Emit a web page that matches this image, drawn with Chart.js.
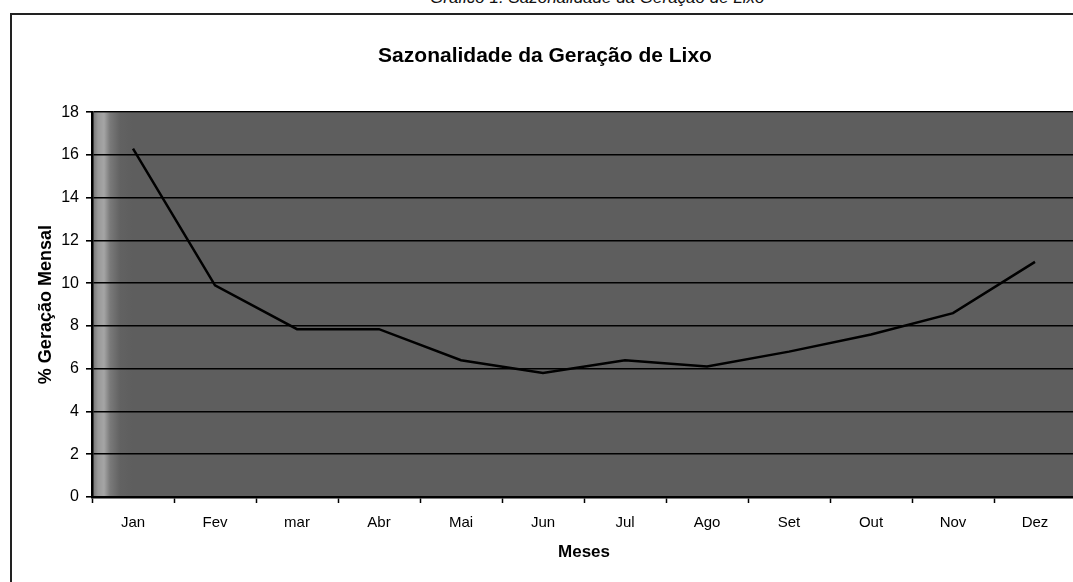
<!DOCTYPE html>
<html>
<head>
<meta charset="utf-8">
<script src="https://cdn.jsdelivr.net/npm/chart.js@4"></script>
<style>
  html, body { margin: 0; padding: 0; background: #fff; overflow: hidden; width: 1073px; height: 582px; }
  #frame { position: absolute; left: 10px; top: 13px; width: 1100px; height: 600px;
           border-top: 2px solid #222; border-left: 2px solid #222; }
  #header { position: absolute; left: 430px; top: -12px; font: italic 17px "Liberation Sans", Arial, sans-serif;
            color: #111; white-space: nowrap; }
  #chart { position: absolute; left: 0; top: 0; }
</style>
</head>
<body>
<div id="header">Gráfico 1: Sazonalidade da Geração de Lixo</div>
<div id="frame"></div>
<canvas id="chart" width="1090" height="582"></canvas>
<script>
'use strict';

/* global Chart */

const months = ['Jan', 'Fev', 'mar', 'Abr', 'Mai', 'Jun', 'Jul', 'Ago', 'Set', 'Out', 'Nov', 'Dez'];
// % of yearly waste generated in each month
const monthlyShare = [16.3, 9.9, 7.85, 7.85, 6.4, 5.8, 6.4, 6.1, 6.8, 7.6, 8.6, 11.0];
const yTicks = [0, 2, 4, 6, 8, 10, 12, 14, 16, 18];

const FONT = '"Liberation Sans", Arial, sans-serif';

// grey plot background, with the lighter scanner streak near the left edge
const plotBackground = {
  id: 'plotBackground',
  beforeDraw(chart) {
    const { ctx, chartArea: a } = chart;
    const g = ctx.createLinearGradient(a.left, 0, a.left + 40, 0);
    g.addColorStop(0, '#6e6e6e');
    g.addColorStop(0.15, '#999999');
    g.addColorStop(0.3, '#a5a5a5');
    g.addColorStop(0.45, '#7a7a7a');
    g.addColorStop(0.7, '#626262');
    g.addColorStop(1, '#5e5e5e');
    ctx.save();
    ctx.fillStyle = g;
    ctx.fillRect(a.left, a.top, a.right - a.left, a.bottom - a.top);
    ctx.restore();
  }
};

new Chart(document.getElementById('chart'), {
  type: 'line',
  data: {
    labels: months,
    datasets: [{
      data: monthlyShare,
      borderColor: '#000',
      borderWidth: 2.5,
      tension: 0,
      pointRadius: 0,
      fill: false
    }]
  },
  options: {
    responsive: false,
    animation: false,
    layout: { padding: { left: 14, right: 14, top: 0, bottom: 0 } },
    plugins: {
      legend: { display: false },
      tooltip: { enabled: false },
      title: {
        display: true,
        text: 'Sazonalidade da Geração de Lixo',
        color: '#000',
        font: { family: FONT, size: 21, weight: 'bold' },
        padding: { top: 44, bottom: 43 }
      }
    },
    scales: {
      x: {
        offset: true,
        grid: { offset: true, drawOnChartArea: false, color: '#000', tickLength: 6, tickWidth: 1.5 },
        border: { color: '#000', width: 2.5 },
        ticks: { color: '#000', font: { family: FONT, size: 15 }, padding: 11, maxRotation: 0 },
        title: {
          display: true, text: 'Meses', color: '#000',
          font: { family: FONT, size: 17, weight: 'bold' },
          padding: { top: 0, bottom: 19 }
        },
        afterFit(scale) { scale.height = 85; }
      },
      y: {
        min: 0,
        max: 18,
        afterBuildTicks(scale) { scale.ticks = yTicks.map(v => ({ value: v })); },
        grid: { color: '#000', lineWidth: 1.6, tickLength: 6 },
        border: { color: '#000', width: 2.5 },
        ticks: { color: '#000', font: { family: FONT, size: 16 }, padding: 7 },
        title: {
          display: true, text: '% Geração Mensal', color: '#000',
          font: { family: FONT, size: 18, weight: 'bold' },
          padding: { top: 21, bottom: 0 }
        },
        afterFit(scale) { scale.width = 78; }
      }
    }
  },
  plugins: [plotBackground]
});
</script>
</body>
</html>
